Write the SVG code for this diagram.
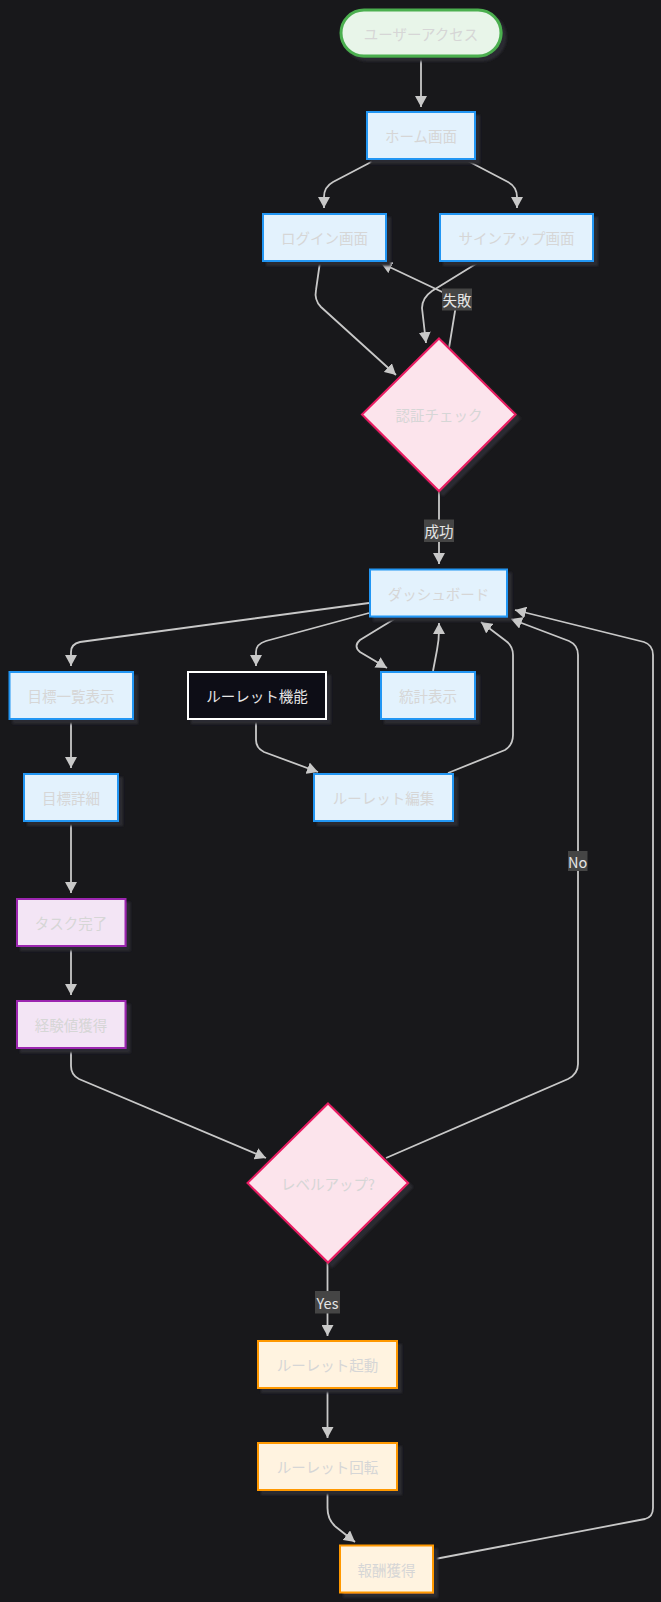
<svg xmlns="http://www.w3.org/2000/svg" width="661" height="1602" viewBox="0 0 661 1602">
<defs>
<style>
.nt{font-family:"Noto Sans CJK JP","Noto Sans",sans-serif;font-size:14.5px;text-anchor:middle;dominant-baseline:central;fill:#d6d6d6}
.lt{font-family:"Noto Sans CJK JP","Noto Sans",sans-serif;font-size:14.5px;text-anchor:middle;dominant-baseline:central;fill:#e6e6e6}
.blue{fill:#e3f2fd;stroke:#2196f3;stroke-width:2}
.purple{fill:#f3e5f5;stroke:#9c27b0;stroke-width:2}
.orange{fill:#fff3e0;stroke:#ff9800;stroke-width:2}
.pink{fill:#fce4ec;stroke:#e91e63;stroke-width:2}
.green{fill:#e8f5e9;stroke:#4caf50;stroke-width:3}
.dark{fill:#0d0f17;stroke:#ffffff;stroke-width:2}
.sh{filter:url(#shadow)}
.edge{fill:none;stroke:#c8c8c8;stroke-width:1.8;marker-end:url(#arrow)}
.edgen{fill:none;stroke:#c8c8c8;stroke-width:1.8}
.lbl{fill:#454545}
</style>
<filter id="shadow" x="-20%" y="-20%" width="150%" height="150%">
<feDropShadow dx="4" dy="4" stdDeviation="1" flood-color="#2c2c30" flood-opacity="1"/>
</filter>
<marker id="arrow" markerUnits="userSpaceOnUse" markerWidth="12" markerHeight="12" refX="11" refY="6" orient="auto">
<path d="M0,0 L11,6 L0,12 z" fill="#c8c8c8"/>
</marker>
</defs>
<rect x="0" y="0" width="661" height="1602" fill="#18181b"/>

<g id="connectors">
<path class="edge" d="M421,57 L421,107"/>
<path class="edge" d="M375,160 L333,182 Q324,187 324,197 L324,208"/>
<path class="edge" d="M466,160 L508,182 Q517,187 517,197 L517,208"/>
<path class="edge" d="M320,262 L316,290 Q314,300 321,307 L396,375"/>
<path class="edge" d="M479,262 L432,291 Q422,298 422,308 L426,343"/>
<path class="edge" d="M449,348 L457,299 L381,263"/>
<path class="edge" d="M439,492 L439,564"/>
<path class="edge" d="M369,603 L80,642 Q71,644 71,652 L71,666"/>
<path class="edge" d="M369,613 L266,641 Q256,644 256,652 L256,666"/>
<path class="edge" d="M396,618 L360,640 Q353,646 360,652 L387,668"/>
<path class="edge" d="M433,671 L437,650 Q439,640 439,630 L439,623"/>
<path class="edge" d="M256,720 L256,740 Q256,748 264,752 L318,772"/>
<path class="edge" d="M448,773 L505,750 Q513,745 513,735 L513,655 Q513,646 506,641 L481,622"/>
<path class="edge" d="M71,720 L71,768"/>
<path class="edge" d="M71,822 L71,893"/>
<path class="edge" d="M71,947 L71,995"/>
<path class="edge" d="M71,1049 L71,1066 Q71,1075 79,1079 L266,1158"/>
<path class="edge" d="M386,1158 L568,1079 Q578,1074 578,1064 L578,655 Q578,645 569,641 L511,619"/>
<path class="edge" d="M327.5,1263 L327.5,1336"/>
<path class="edge" d="M327.5,1391 L327.5,1438"/>
<path class="edge" d="M327.5,1491 L327.5,1508 Q327.5,1520 336,1527 L355,1542"/>
<path class="edge" d="M435,1559 L645,1519 Q653,1517 653,1508 L653,655 Q653,645 644,642 L515,610"/>
<g id="edge-labels">
<rect class="lbl" x="442" y="288.5" width="30" height="22"/>
<text class="lt" x="457" y="299.5">失敗</text>
<rect class="lbl" x="424" y="519.5" width="30" height="22.5"/>
<text class="lt" x="439" y="530.7">成功</text>
<rect class="lbl" x="568" y="851" width="19.5" height="20"/>
<text class="lt" x="577.7" y="861">No</text>
<rect class="lbl" x="315" y="1291" width="25" height="22.5"/>
<text class="lt" x="327.5" y="1302.2">Yes</text>
</g>
</g>

<g id="start"><rect class="green sh" x="341" y="10" width="160" height="46" rx="23"/><text class="nt" x="421" y="33">ユーザーアクセス</text></g>
<g id="home"><rect class="blue sh" x="367" y="112" width="108" height="47"/><text class="nt" x="421" y="135.5">ホーム画面</text></g>
<g id="login"><rect class="blue sh" x="263" y="214" width="123" height="47"/><text class="nt" x="324.5" y="237.5">ログイン画面</text></g>
<g id="signup"><rect class="blue sh" x="440" y="214" width="153" height="47"/><text class="nt" x="516.5" y="237.5">サインアップ画面</text></g>
<g id="auth"><polygon class="pink sh" points="439,338.5 515.5,414.5 439,491 362,414.5"/><text class="nt" x="439" y="414.5">認証チェック</text></g>
<g id="dashboard"><rect class="blue sh" x="370" y="569.5" width="137" height="47"/><text class="nt" x="438.5" y="593">ダッシュボード</text></g>
<g id="goals"><rect class="blue sh" x="9.5" y="672" width="123.5" height="47"/><text class="nt" x="71" y="695.5">目標一覧表示</text></g>
<g id="roulette"><rect class="dark sh" x="188" y="672" width="138" height="47"/><text class="lt" x="257" y="695.5">ルーレット機能</text></g>
<g id="stats"><rect class="blue sh" x="381" y="672" width="94" height="47"/><text class="nt" x="428" y="695.5">統計表示</text></g>
<g id="goaldetail"><rect class="blue sh" x="24" y="774" width="94" height="47"/><text class="nt" x="71" y="797.5">目標詳細</text></g>
<g id="rouletteedit"><rect class="blue sh" x="314" y="774" width="139" height="47"/><text class="nt" x="383.5" y="797.5">ルーレット編集</text></g>
<g id="taskdone"><rect class="purple sh" x="17" y="899" width="108.5" height="47"/><text class="nt" x="71" y="922.5">タスク完了</text></g>
<g id="exp"><rect class="purple sh" x="17" y="1001" width="108.5" height="47"/><text class="nt" x="71" y="1024.5">経験値獲得</text></g>
<g id="levelup"><polygon class="pink sh" points="328,1103.5 408,1183 328,1262.5 247.5,1183"/><text class="nt" x="328" y="1183">レベルアップ?</text></g>
<g id="rstart"><rect class="orange sh" x="258" y="1341" width="139" height="47"/><text class="nt" x="327.5" y="1364.5">ルーレット起動</text></g>
<g id="rspin"><rect class="orange sh" x="258" y="1443" width="139" height="47"/><text class="nt" x="327.5" y="1466.5">ルーレット回転</text></g>
<g id="reward"><rect class="orange sh" x="340" y="1545.5" width="93" height="47"/><text class="nt" x="386.5" y="1569">報酬獲得</text></g>
</svg>
